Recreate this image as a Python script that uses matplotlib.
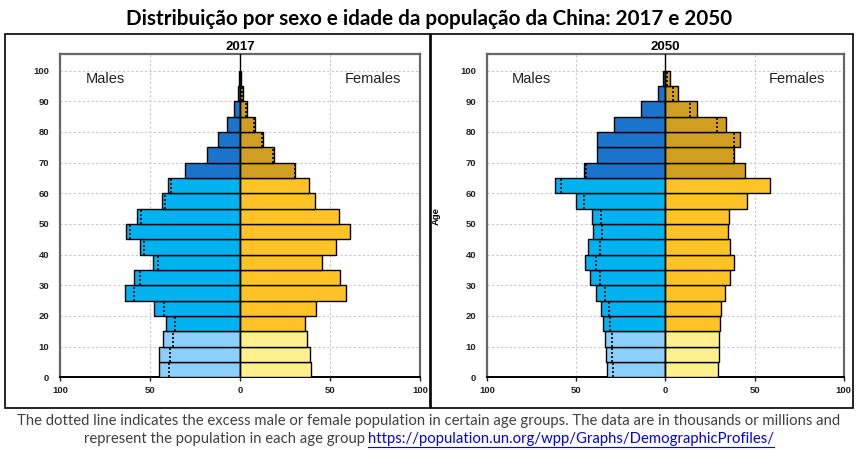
import matplotlib
matplotlib.use("Agg")
import matplotlib.pyplot as plt
from matplotlib.patches import Rectangle
from matplotlib.lines import Line2D

# --- Data ---
age_starts = [0, 5, 10, 15, 20, 25, 30, 35, 40, 45, 50, 55, 60, 65, 70, 75, 80, 85, 90, 95]

males_2017 = [45.2, 45.2, 43.0, 41.3, 47.8, 64.1, 58.7, 48.5, 55.7, 63.5,
              57.0, 43.1, 39.8, 30.4, 18.5, 12.0, 7.5, 3.4, 1.1, 0.3]
females_2017 = [39.4, 38.7, 37.0, 36.3, 42.2, 59.1, 55.4, 45.6, 53.1, 61.3,
                55.0, 41.7, 38.5, 30.7, 19.1, 13.0, 8.6, 4.1, 1.6, 0.4]

males_2050 = [32.9, 33.5, 34.0, 34.8, 35.9, 38.7, 42.1, 45.0, 43.4, 40.4,
              40.9, 50.3, 62.1, 45.8, 38.3, 38.5, 28.8, 13.8, 4.4, 1.1]
females_2050 = [29.5, 30.1, 30.1, 30.8, 31.4, 33.6, 36.4, 38.7, 36.4, 35.3,
                35.9, 45.8, 58.5, 44.5, 38.7, 41.7, 34.2, 17.9, 7.0, 2.5]

years = ["2017", "2050"]

title = "Distribuição por sexo e idade da população da China: 2017 e 2050"
note_1 = ("The dotted line indicates the excess male or female population in certain "
          "age groups. The data are in thousands or millions and")
note_2 = "represent the population in each age group "
link = "https://population.un.org/wpp/Graphs/DemographicProfiles/"

# colours by broad age band: 0-14, 15-64, 65+
male_colors = ["#8ccffa", "#00b2ef", "#1b74cc"]
female_colors = ["#fff08e", "#ffc227", "#d09f21"]

AX_FONT = "Liberation Sans"


def band(age):
    if age < 15:
        return 0
    if age < 65:
        return 1
    return 2


W, H = 858, 451
fig = plt.figure(figsize=(W / 100, H / 100), dpi=100)


def fx(px):
    return px / W


def fy(py):
    return 1 - py / H


# panel frames
for x0, x1 in [(5, 429.5), (431, 853)]:
    fig.add_artist(Rectangle((fx(x0), fy(408)), fx(x1 - x0), (408 - 33.5) / H,
                             transform=fig.transFigure, fill=False,
                             edgecolor="black", linewidth=1.2))


def draw_pyramid(ax, males, females, year, show_ylabel):
    m_cols = [male_colors[band(a)] for a in age_starts]
    f_cols = [female_colors[band(a)] for a in age_starts]
    ax.barh(age_starts, [-m for m in males], height=5, align="edge",
            color=m_cols, edgecolor="black", linewidth=1.0, zorder=3)
    ax.barh(age_starts, females, height=5, align="edge",
            color=f_cols, edgecolor="black", linewidth=1.0, zorder=3)

    # dotted line = the smaller sex drawn on the side of the larger one
    for a, m, f in zip(age_starts, males, females):
        if m > f:
            ax.plot([-f, -f], [a, a + 5], color="black", linestyle=(0, (1.2, 1.2)),
                    linewidth=1.2, zorder=4)
        elif f > m:
            ax.plot([m, m], [a, a + 5], color="black", linestyle=(0, (1.2, 1.2)),
                    linewidth=1.2, zorder=4)
    ax.axvline(0, color="black", linewidth=1.0, zorder=5)

    ax.set_xlim(-100, 100)
    ax.set_ylim(0, 105.3)
    ax.set_xticks([-100, -50, 0, 50, 100])
    ax.set_xticklabels(["100", "50", "0", "50", "100"])
    ax.set_yticks(range(0, 101, 10))
    ax.tick_params(axis="both", labelsize=6.8, colors="#222222", pad=3)
    ax.tick_params(axis="y", length=0, pad=8)
    ax.tick_params(axis="x", length=3, width=1)
    for lab in ax.get_xticklabels() + ax.get_yticklabels():
        lab.set_fontweight("bold")
        lab.set_family(AX_FONT)
    ax.grid(True, color="#c8c8c8", linestyle=(0, (2, 2)), linewidth=0.8, zorder=0)
    for side in ["top", "right", "left"]:
        ax.spines[side].set_color("#666666")
        ax.spines[side].set_linewidth(1.6)
    ax.spines["bottom"].set_color("black")
    ax.spines["bottom"].set_linewidth(1.4)

    ax.set_title(year, fontsize=9.5, fontweight="bold", family=AX_FONT, pad=3)
    ax.text(-75, 97.3, "Males", ha="center", va="center", fontsize=10.5,
            family=AX_FONT, color="#222222")
    ax.text(74, 97.3, "Females", ha="center", va="center", fontsize=10.5,
            family=AX_FONT, color="#222222")
    if show_ylabel:
        ax.set_ylabel("Age", fontsize=6.8, fontweight="bold", family=AX_FONT,
                      labelpad=14)


ax1 = fig.add_axes([fx(60), fy(377.3), fx(420 - 60), (377.3 - 54.3) / H])
ax2 = fig.add_axes([fx(487), fy(377.3), fx(843.7 - 487), (377.3 - 54.3) / H])

draw_pyramid(ax1, males_2017, females_2017, years[0], False)
draw_pyramid(ax2, males_2050, females_2050, years[1], True)

fig.text(fx(429), fy(19), title, ha="center", va="center",
         fontsize=14.9, fontweight="bold", family="Lato", color="black")

fig.text(fx(429), fy(421), note_1, ha="center", va="center",
         fontsize=10.75, family="Lato", color="#404040")

# second note line: plain part + underlined link, centred together
renderer = fig.canvas.get_renderer()
t_a = fig.text(0, fy(439), note_2, ha="left", va="center",
               fontsize=10.75, family="Lato", color="#404040")
t_b = fig.text(0, fy(439), link, ha="left", va="center",
               fontsize=10.75, family="Lato", color="#0000ee")
wa = t_a.get_window_extent(renderer).width
wb = t_b.get_window_extent(renderer).width
start = 429 - (wa + wb) / 2
t_a.set_x(fx(start))
t_b.set_x(fx(start + wa))
fig.add_artist(Line2D([fx(start + wa), fx(start + wa + wb)], [fy(446.5), fy(446.5)],
                      transform=fig.transFigure, color="#0000ee", linewidth=0.8))

fig.savefig("out.png", dpi=100)
